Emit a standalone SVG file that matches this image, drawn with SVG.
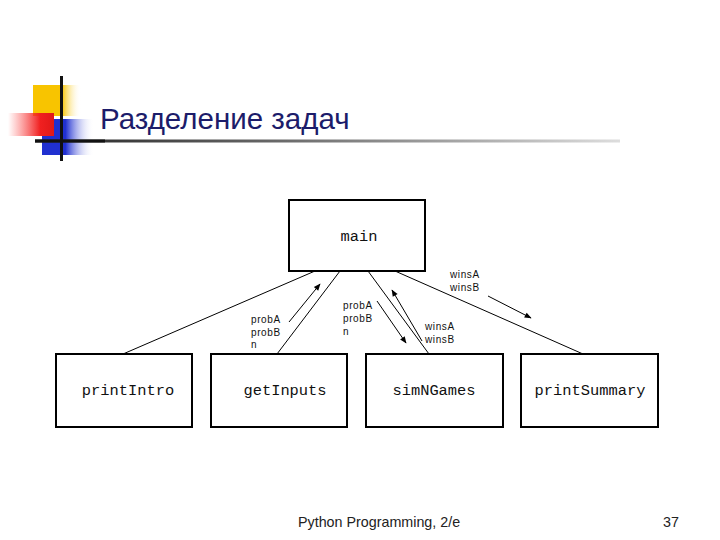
<svg xmlns="http://www.w3.org/2000/svg" width="720" height="540" viewBox="0 0 720 540">
<defs>
<style>
.box{fill:#fff;stroke:#000;stroke-width:2}
.lbl{font-family:"Liberation Mono",monospace;font-size:15.4px;fill:#111;text-anchor:middle}
.sm{font-family:"Liberation Sans",Arial,sans-serif;font-size:10px;fill:#111;letter-spacing:0.6px}
.ln{stroke:#000;stroke-width:1;fill:none}
</style>
<marker id="ah" viewBox="0 0 10 10" refX="9" refY="5" markerWidth="9" markerHeight="7" orient="auto" markerUnits="userSpaceOnUse">
<path d="M0,1 L10,5 L0,9 Z" fill="#000"/>
</marker>
<linearGradient id="yel" x1="0" x2="1" y1="0" y2="0">
<stop offset="0" stop-color="#f8c400"/><stop offset="0.6" stop-color="#f8c400"/><stop offset="1" stop-color="#fff" stop-opacity="0"/>
</linearGradient>
<linearGradient id="red" x1="0" x2="1" y1="0" y2="0">
<stop offset="0" stop-color="#ff4040" stop-opacity="0"/><stop offset="0.7" stop-color="#f02020"/><stop offset="1" stop-color="#e01818"/>
</linearGradient>
<linearGradient id="blu" x1="0" x2="1" y1="0" y2="0">
<stop offset="0" stop-color="#2030d0"/><stop offset="0.45" stop-color="#2030d0"/><stop offset="1" stop-color="#fff" stop-opacity="0"/>
</linearGradient>
<linearGradient id="rule" x1="0" x2="1" y1="0" y2="0">
<stop offset="0" stop-color="#222"/><stop offset="0.4" stop-color="#666"/><stop offset="1" stop-color="#ddd"/>
</linearGradient>
</defs>
<rect width="720" height="540" fill="#fff"/>
<g id="logo">
<rect x="33" y="85" width="48" height="31" fill="url(#yel)"/>
<rect x="42" y="119" width="52" height="36" fill="url(#blu)"/>
<rect x="8" y="113" width="46" height="23" fill="url(#red)"/>
<rect x="35" y="139.5" width="585" height="3" fill="url(#rule)"/>
<rect x="35" y="139.5" width="70" height="3" fill="#111"/>
<rect x="60" y="76" width="3" height="85" fill="#111"/>
</g>
<text id="title" x="100" y="129" font-family="Liberation Sans,Arial,sans-serif" font-size="29.5" fill="#1c1c6a">Разделение задач</text>
<g id="connectors">
<line class="ln" x1="315" y1="271" x2="123" y2="354"/>
<line class="ln" x1="340" y1="271" x2="277" y2="354"/>
<line class="ln" x1="368" y1="271" x2="429" y2="354"/>
<line class="ln" x1="395" y1="271" x2="583" y2="354"/>
<line class="ln" x1="289" y1="322" x2="320" y2="284" marker-end="url(#ah)"/>
<line class="ln" x1="422" y1="341" x2="392" y2="290" marker-end="url(#ah)"/>
<line class="ln" x1="377" y1="301" x2="406" y2="343" marker-end="url(#ah)"/>
<line class="ln" x1="488" y1="296" x2="531" y2="318" marker-end="url(#ah)"/>
</g>
<g id="main"><rect class="box" x="289" y="200" width="136" height="71"/><text class="lbl" x="359" y="241">main</text></g>
<g id="printIntro"><rect class="box" x="56" y="354" width="136" height="73"/><text class="lbl" x="128" y="395">printIntro</text></g>
<g id="getInputs"><rect class="box" x="211" y="354" width="136" height="73"/><text class="lbl" x="285" y="395">getInputs</text></g>
<g id="simNGames"><rect class="box" x="366" y="354" width="137" height="73"/><text class="lbl" x="434" y="395">simNGames</text></g>
<g id="printSummary"><rect class="box" x="521" y="354" width="137" height="73"/><text class="lbl" x="590" y="395">printSummary</text></g>
<g id="labels">
<text class="sm" x="450" y="278">winsA</text><text class="sm" x="450" y="291">winsB</text>
<text class="sm" x="251" y="323">probA</text><text class="sm" x="251" y="336">probB</text><text class="sm" x="251" y="348">n</text>
<text class="sm" x="343" y="309">probA</text><text class="sm" x="343" y="322">probB</text><text class="sm" x="343" y="335">n</text>
<text class="sm" x="425" y="330">winsA</text><text class="sm" x="425" y="343">winsB</text>
</g>
<g id="footer">
<text x="298" y="527" font-family="Liberation Sans,Arial,sans-serif" font-size="14.3" fill="#222">Python Programming, 2/e</text>
<text x="663" y="527" font-family="Liberation Sans,Arial,sans-serif" font-size="14.3" fill="#222">37</text>
</g>
</svg>
